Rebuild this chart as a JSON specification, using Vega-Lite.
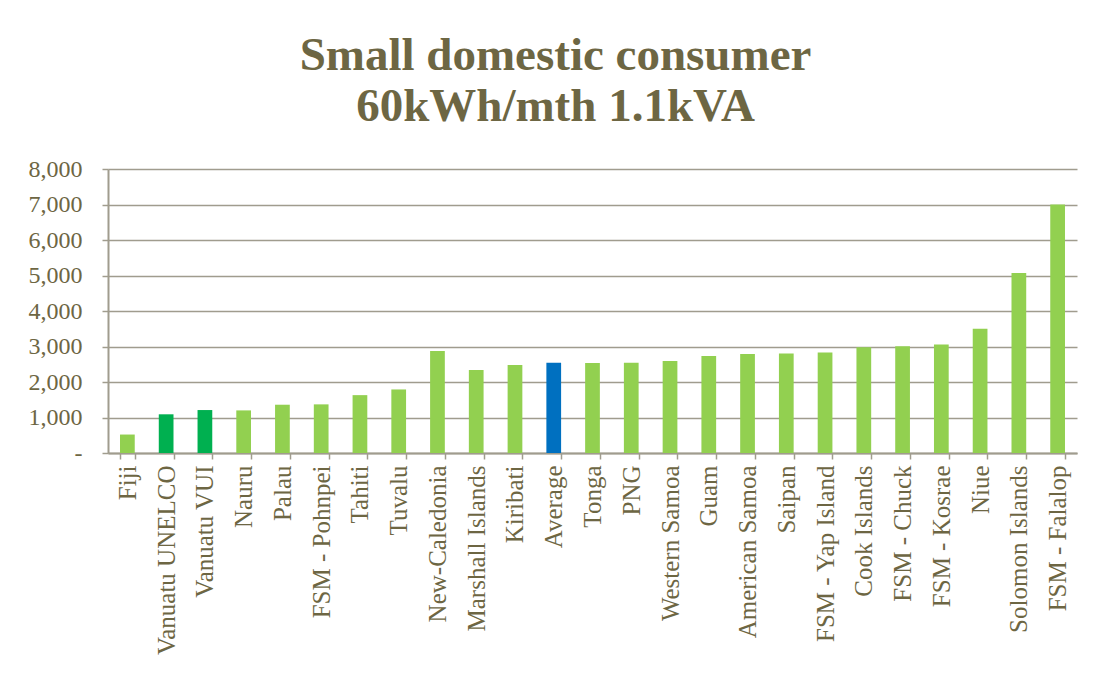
{
  "$schema": "https://vega.github.io/schema/vega-lite/v6.json",
  "autosize": {"type": "none"},
  "width": 969,
  "height": 284,
  "padding": {"left": 108, "top": 169, "right": 18, "bottom": 233},
  "background": "white",
  "title": {
    "text": ["Small domestic consumer", "60kWh/mth 1.1kVA"],
    "font": "Liberation Serif",
    "fontSize": 47,
    "fontWeight": "bold",
    "color": "#6d6643",
    "anchor": "middle",
    "lineHeight": 51,
    "dx": -37,
    "offset": 26
  },
  "data": {
    "values": [
      {"country": "Fiji", "value": 520, "group": "other"},
      {"country": "Vanuatu UNELCO", "value": 1090, "group": "vanuatu"},
      {"country": "Vanuatu VUI", "value": 1210, "group": "vanuatu"},
      {"country": "Nauru", "value": 1200, "group": "other"},
      {"country": "Palau", "value": 1360, "group": "other"},
      {"country": "FSM - Pohnpei", "value": 1370, "group": "other"},
      {"country": "Tahiti", "value": 1630, "group": "other"},
      {"country": "Tuvalu", "value": 1790, "group": "other"},
      {"country": "New-Caledonia", "value": 2875, "group": "other"},
      {"country": "Marshall Islands", "value": 2340, "group": "other"},
      {"country": "Kiribati", "value": 2480, "group": "other"},
      {"country": "Average", "value": 2545, "group": "average"},
      {"country": "Tonga", "value": 2535, "group": "other"},
      {"country": "PNG", "value": 2545, "group": "other"},
      {"country": "Western Samoa", "value": 2590, "group": "other"},
      {"country": "Guam", "value": 2735, "group": "other"},
      {"country": "American Samoa", "value": 2790, "group": "other"},
      {"country": "Saipan", "value": 2800, "group": "other"},
      {"country": "FSM - Yap Island", "value": 2830, "group": "other"},
      {"country": "Cook Islands", "value": 2980, "group": "other"},
      {"country": "FSM - Chuck", "value": 3010, "group": "other"},
      {"country": "FSM - Kosrae", "value": 3055, "group": "other"},
      {"country": "Niue", "value": 3500, "group": "other"},
      {"country": "Solomon Islands", "value": 5070, "group": "other"},
      {"country": "FSM - Falalop", "value": 7000, "group": "other"}
    ]
  },
  "mark": {"type": "bar"},
  "encoding": {
    "x": {
      "field": "country",
      "type": "nominal",
      "sort": null,
      "scale": {"paddingInner": 0.62, "paddingOuter": 0.31},
      "axis": {
        "title": null,
        "labelAngle": -90,
        "labelAlign": "right",
        "labelBaseline": "middle",
        "labelFont": "Liberation Serif",
        "labelFontSize": 25,
        "labelLimit": 400,
        "labelColor": "#6d6643",
        "labelPadding": 6,
        "tickBand": "extent",
        "tickSize": 6,
        "tickColor": "#a09c8e",
        "tickWidth": 1.5,
        "domainColor": "#a09c8e",
        "domainWidth": 2,
        "grid": false
      }
    },
    "y": {
      "field": "value",
      "type": "quantitative",
      "scale": {"domain": [0, 8000], "nice": false},
      "axis": {
        "title": null,
        "values": [0, 1000, 2000, 3000, 4000, 5000, 6000, 7000, 8000],
        "labelExpr": "datum.value == 0 ? '-' : format(datum.value, ',')",
        "labelFont": "Liberation Serif",
        "labelFontSize": 24,
        "labelColor": "#6d6643",
        "labelPadding": 20,
        "tickSize": 6,
        "tickColor": "#a09c8e",
        "tickWidth": 1.5,
        "domainColor": "#a09c8e",
        "domainWidth": 2,
        "grid": true,
        "gridColor": "#a09c8e",
        "gridWidth": 1.5
      }
    },
    "color": {
      "field": "group",
      "type": "nominal",
      "scale": {"domain": ["other", "vanuatu", "average"], "range": ["#92d050", "#00b050", "#0070c0"]},
      "legend": null
    }
  },
  "config": {"view": {"stroke": null}}
}
